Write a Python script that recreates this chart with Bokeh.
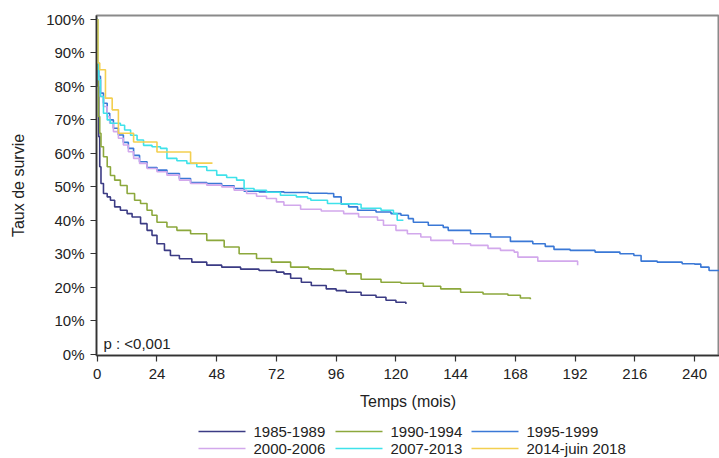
from bokeh.plotting import figure
from bokeh.layouts import column
from bokeh.models import Range1d, FixedTicker, NumeralTickFormatter, Label
from bokeh.core.properties import value
from bokeh.embed import file_html
from bokeh.resources import INLINE

# ---- data ----
labels = ["1985-1989", "1990-1994", "1995-1999", "2000-2006", "2007-2013", "2014-juin 2018"]
colors = ["#3b3b84", "#8ca83c", "#3a78d6", "#d2a8ec", "#3fe2ea", "#f3cf50"]

t_8589 = [0, 0.3, 0.6, 1, 1.5, 2.5, 4, 5.3, 7, 9.3, 12, 14, 17.4, 20, 22, 24, 27, 29.4, 33, 38, 44, 50,
          57.6, 65, 72, 75, 77.7, 82, 86, 92, 96, 100, 106, 112, 116, 120, 124]
s_8589 = [1.0, 0.80, 0.65, 0.56, 0.51, 0.48, 0.47, 0.46, 0.44, 0.43, 0.42, 0.41, 0.39, 0.37, 0.355, 0.33,
          0.31, 0.295, 0.285, 0.275, 0.266, 0.26, 0.254, 0.25, 0.245, 0.24, 0.227, 0.215, 0.205, 0.195,
          0.19, 0.185, 0.176, 0.17, 0.161, 0.155, 0.15]

t_9094 = [0, 0.3, 0.5, 1, 1.5, 2.5, 4, 5.3, 7, 9.3, 12, 15, 17.4, 20, 22, 24, 28, 32, 37.5, 44, 51, 57,
          64, 70, 77.7, 85, 90, 95, 100, 106, 114, 122, 131, 138, 146, 155, 165, 170, 174]
s_9094 = [1.0, 0.85, 0.71, 0.66, 0.62, 0.59, 0.56, 0.534, 0.52, 0.504, 0.48, 0.46, 0.45, 0.43, 0.415,
          0.394, 0.38, 0.37, 0.36, 0.34, 0.32, 0.30, 0.286, 0.275, 0.26, 0.255, 0.254, 0.25, 0.24, 0.224,
          0.215, 0.212, 0.203, 0.195, 0.185, 0.18, 0.176, 0.168, 0.164]

t_9599 = [0, 0.3, 0.6, 1.3, 2.5, 4, 5, 6.5, 8.5, 10.5, 12.5, 14.6, 17, 20, 24, 28, 33, 37.5, 44, 50, 55,
          59, 65, 75, 85, 92.5, 95, 98, 101, 104.6, 112, 118, 122, 125, 127, 133, 139, 141, 150, 158,
          166, 175, 180, 183.5, 190, 200, 210, 215.6, 218.5, 225, 235, 240, 242.5, 245.8, 250]
s_9599 = [1.0, 0.87, 0.83, 0.78, 0.75, 0.72, 0.70, 0.675, 0.655, 0.633, 0.615, 0.594, 0.575, 0.558,
          0.55, 0.54, 0.525, 0.513, 0.51, 0.503, 0.495, 0.487, 0.485, 0.483, 0.481, 0.48, 0.47, 0.448,
          0.44, 0.43, 0.425, 0.42, 0.415, 0.405, 0.394, 0.385, 0.379, 0.37, 0.36, 0.35, 0.337, 0.33,
          0.322, 0.313, 0.31, 0.305, 0.30, 0.295, 0.278, 0.275, 0.27, 0.269, 0.26, 0.25, 0.25]

t_0006 = [0, 0.3, 0.6, 1.3, 2.5, 4, 5, 6.5, 8.5, 10.5, 12.5, 14.6, 17, 20, 24, 28, 33, 37.5, 44, 50, 55,
          60, 64, 68, 72, 75, 81.7, 90, 99, 105, 112.6, 115, 120, 124.6, 130, 134, 143, 150, 157, 162,
          167.5, 169, 177, 190, 193]
s_0006 = [1.0, 0.87, 0.82, 0.77, 0.74, 0.71, 0.69, 0.665, 0.645, 0.625, 0.605, 0.585, 0.57, 0.555,
          0.545, 0.535, 0.52, 0.51, 0.505, 0.50, 0.49, 0.48, 0.472, 0.465, 0.455, 0.445, 0.433, 0.428,
          0.42, 0.41, 0.40, 0.385, 0.37, 0.36, 0.35, 0.34, 0.33, 0.325, 0.316, 0.31, 0.305, 0.29,
          0.278, 0.278, 0.266]

t_0713 = [0, 0.3, 0.6, 1.3, 2.5, 4, 5.3, 9.3, 11, 13.4, 16, 18.6, 22, 25.4, 28, 32, 36, 40, 44, 48, 52,
          56, 59, 63, 68, 73.6, 80, 84.5, 85.8, 92.5, 98, 104.6, 106, 114, 119, 120.5, 123]
s_0713 = [1.0, 0.87, 0.82, 0.77, 0.72, 0.70, 0.69, 0.684, 0.67, 0.654, 0.64, 0.624, 0.62, 0.615, 0.585,
          0.578, 0.57, 0.56, 0.549, 0.535, 0.528, 0.52, 0.495, 0.49, 0.484, 0.475, 0.47, 0.465, 0.46,
          0.45, 0.449, 0.448, 0.436, 0.43, 0.42, 0.40, 0.40]

t_1418 = [0, 0.3, 1, 3.3, 6, 8.5, 14.6, 24, 37.5, 46.3]
s_1418 = [1.0, 0.87, 0.85, 0.765, 0.73, 0.66, 0.634, 0.604, 0.571, 0.571]

x_ticks = [0, 24, 48, 72, 96, 120, 144, 168, 192, 216, 240]
y_ticks = [0, 0.1, 0.2, 0.3, 0.4, 0.5, 0.6, 0.7, 0.8, 0.9, 1.0]

series = [(t_8589, s_8589), (t_9094, s_9094), (t_9599, s_9599),
          (t_0006, s_0006), (t_0713, s_0713), (t_1418, s_1418)]

FONT = "Liberation Sans"
TXT = "#222222"

p = figure(width=719, height=422, output_backend="svg", toolbar_location=None,
           x_range=Range1d(-0.3, 250), y_range=Range1d(-0.004, 1.012),
           min_border_left=96, min_border_right=0, min_border_top=15, min_border_bottom=67)

p.background_fill_color = "white"
p.border_fill_color = "white"
p.outline_line_color = "#8a8a8a"
p.outline_line_width = 2
p.xgrid.visible = False
p.ygrid.visible = False

for (t, s), c in zip(series, colors):
    p.step(t, s, mode="after", line_color=c, line_width=1.6)

for ax in (p.xaxis[0], p.yaxis[0]):
    ax.axis_line_color = "#333333"
    ax.axis_line_width = 1.5
    ax.major_tick_line_color = "#333333"
    ax.major_tick_line_width = 1.2
    ax.major_tick_out = 6
    ax.major_tick_in = 0
    ax.minor_tick_line_color = None
    ax.major_label_text_font = FONT
    ax.major_label_text_font_size = "15px"
    ax.major_label_text_color = TXT
    ax.axis_label_text_font = FONT
    ax.axis_label_text_font_size = "16px"
    ax.axis_label_text_font_style = "normal"
    ax.axis_label_text_color = TXT

p.xaxis.ticker = FixedTicker(ticks=x_ticks)
p.yaxis.ticker = FixedTicker(ticks=y_ticks)
p.yaxis.formatter = NumeralTickFormatter(format="0%")
p.xaxis.axis_label = "Temps (mois)"
p.yaxis.axis_label = "Taux de survie"
p.xaxis.major_label_standoff = 7
p.xaxis.axis_label_standoff = 11
p.yaxis.major_label_standoff = 6
p.yaxis.axis_label_standoff = 16

p.add_layout(Label(x=2.5, y=0.033, text="p : <0,001", text_font=FONT, text_font_size="15px",
                   text_color=TXT, text_align="left", text_baseline="middle"))

# ---- legend strip below the chart; its frame lines up with the chart frame (page pixels 96..719) ----
lg = figure(width=719, height=36, output_backend="svg", toolbar_location=None,
            x_range=Range1d(96, 719), y_range=Range1d(0, 36),
            x_axis_location=None, y_axis_location=None,
            min_border_left=96, min_border_right=0, min_border_top=0, min_border_bottom=0)
lg.outline_line_color = None
lg.xgrid.visible = False
lg.ygrid.visible = False
lg.background_fill_color = "white"
lg.border_fill_color = "white"

col_x = [198, 335, 471]
row_y = [27, 10]
key_len = 47
for i, (l, c) in enumerate(zip(labels, colors)):
    x0 = col_x[i % 3]
    y0 = row_y[i // 3]
    lg.segment(x0=[x0], y0=[y0], x1=[x0 + key_len], y1=[y0], line_color=c, line_width=1.6)
    lg.text(x=[x0 + key_len + 8], y=[y0], text=[l], text_font=value(FONT), text_font_size="15px",
            text_color=TXT, text_baseline="middle", text_align="left")

open("out.html", "w").write(file_html(column(p, lg, spacing=0), INLINE))
